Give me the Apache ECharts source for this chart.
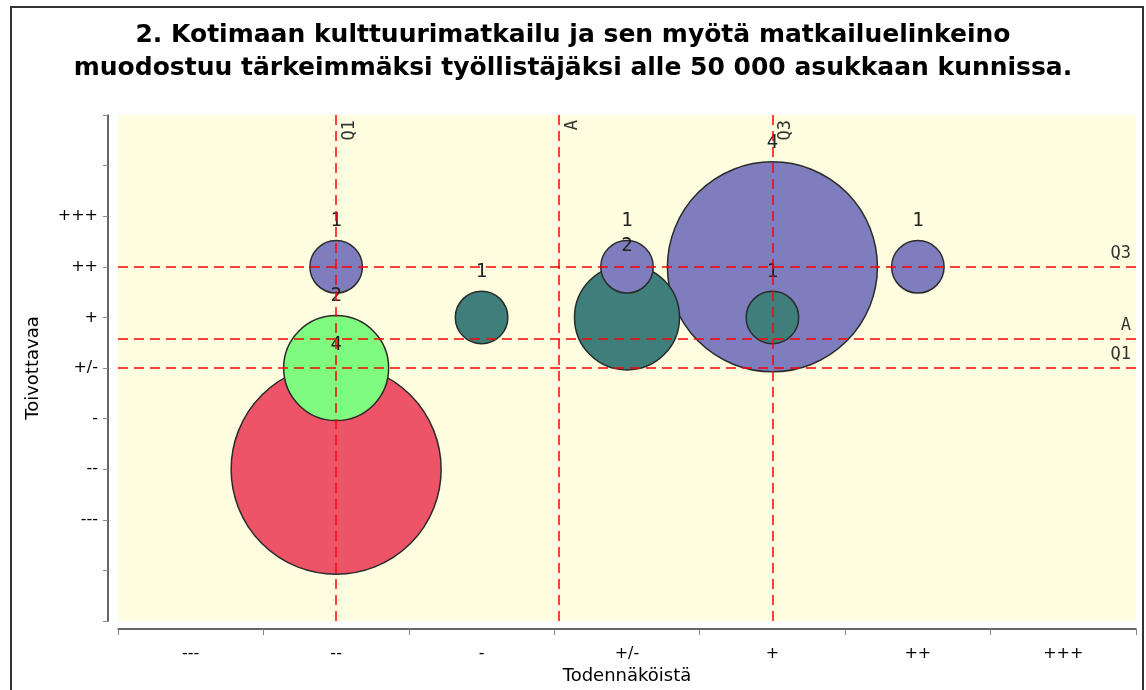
<!DOCTYPE html>
<html>
<head>
<meta charset="utf-8">
<style>
  html, body { margin: 0; padding: 0; background: #fff; }
  #chart { width: 1146px; height: 690px; }
</style>
<script src="https://cdn.jsdelivr.net/npm/echarts@6/dist/echarts.min.js"></script>
</head>
<body>
<div id="chart"></div>
<script>
// asteikon luokat
const xLabels = ['---', '--', '-', '+/-', '+', '++', '+++'];
const yLabels = ['---', '--', '-', '+/-', '+', '++', '+++']; // arvot -3..3

// kuplat: [x-indeksi, y-arvo, lukumäärä]
const redPoints = [[1, -2, 4]];
const greenPoints = [[1, 0, 2]];
const tealPoints = [[2, 1, 1], [3, 1, 2], [4, 1, 1]];
const purplePoints = [[1, 2, 1], [3, 2, 1], [4, 2, 4], [5, 2, 1]];

// viivat Q1 / A / Q3
const refNames = ['Q1', 'A', 'Q3'];
const refX = [1, 2.53, 4];
const refY = [0, 0.58, 2];

const groups = [
  { points: redPoints, color: '#EE5468' },
  { points: greenPoints, color: '#7FFC7F' },
  { points: tealPoints, color: '#3E7F7B' },
  { points: purplePoints, color: '#7E7EBE' }
];

// isommat kuplat ensin, jotta pienet jäävät päälle
const bubbles = [];
groups.forEach(g => {
  g.points.forEach(p => {
    bubbles.push({ value: p, itemStyle: { color: g.color } });
  });
});
bubbles.sort((a, b) => b.value[2] - a.value[2]);

const lineData = [];
refNames.forEach((n, i) => {
  lineData.push({ name: n, xAxis: refX[i], label: { position: 'insideEndBottom' } });
});
refNames.forEach((n, i) => {
  lineData.push({ name: n, yAxis: refY[i], label: { position: 'insideEndTop' } });
});

const chart = echarts.init(document.getElementById('chart'), null, { renderer: 'canvas' });

chart.setOption({
  backgroundColor: '#fff',
  animation: false,
  title: {
    text: '2. Kotimaan kulttuurimatkailu ja sen myötä matkailuelinkeino\nmuodostuu tärkeimmäksi työllistäjäksi alle 50 000 asukkaan kunnissa.',
    left: 'center',
    top: 14,
    textStyle: {
      fontFamily: 'DejaVu Sans',
      fontSize: 25,
      fontWeight: 'bold',
      lineHeight: 33,
      color: '#000'
    }
  },
  graphic: [{
    type: 'rect',
    shape: { x: 11, y: 7, width: 1132, height: 700 },
    style: { fill: 'none', stroke: '#333', lineWidth: 2 },
    silent: true
  }],
  grid: {
    left: 118, right: 10, top: 115, bottom: 66,
    show: true, backgroundColor: '#FEFDE0', borderWidth: 0
  },
  xAxis: [
    {
      type: 'category',
      data: xLabels,
      boundaryGap: true,
      position: 'bottom',
      offset: 8,
      axisLine: { onZero: false, lineStyle: { color: '#333', width: 1.5 } },
      axisTick: { show: true, length: 6, lineStyle: { color: '#888', width: 1 } },
      axisLabel: { color: '#000', fontSize: 16, fontFamily: 'DejaVu Sans', margin: 17 },
      splitLine: { show: false },
      name: 'Todennäköistä',
      nameLocation: 'middle',
      nameGap: 36,
      nameTextStyle: { color: '#000', fontSize: 18, fontFamily: 'DejaVu Sans' }
    },
    {
      type: 'value',
      min: -0.5,
      max: 6.5,
      show: false,
      axisLine: { onZero: false },
      splitLine: { show: false }
    }
  ],
  yAxis: {
    type: 'value',
    min: -5,
    max: 5,
    interval: 1,
    offset: 10,
    axisLine: { show: true, onZero: false, lineStyle: { color: '#333', width: 1.5 } },
    axisTick: { show: true, length: 5, lineStyle: { color: '#888' } },
    axisLabel: {
      color: '#000', fontSize: 16, fontFamily: 'DejaVu Sans', margin: 10,
      formatter: v => (v >= -3 && v <= 3 ? yLabels[v + 3] : '')
    },
    splitLine: { show: false },
    name: 'Toivottavaa',
    nameLocation: 'middle',
    nameRotate: 90,
    nameGap: 66,
    nameTextStyle: { color: '#000', fontSize: 18, fontFamily: 'DejaVu Sans' }
  },
  series: [{
    type: 'scatter',
    xAxisIndex: 1,
    data: bubbles,
    symbolSize: v => v[2] * 52.5,
    itemStyle: { borderColor: '#2a2a2a', borderWidth: 1.5, opacity: 1 },
    label: {
      show: true,
      position: 'top',
      distance: 9,
      formatter: p => String(p.value[2]),
      fontFamily: 'DejaVu Sans Mono',
      fontSize: 19,
      color: '#222'
    },
    emphasis: { disabled: true },
    markLine: {
      silent: true,
      symbol: 'none',
      animation: false,
      lineStyle: { color: '#FF0000', type: [10, 6], width: 1.5 },
      label: {
        show: true,
        formatter: '{b}',
        fontFamily: 'DejaVu Sans Mono',
        fontSize: 17,
        color: '#333'
      },
      data: lineData
    }
  }]
});
</script>
</body>
</html>
